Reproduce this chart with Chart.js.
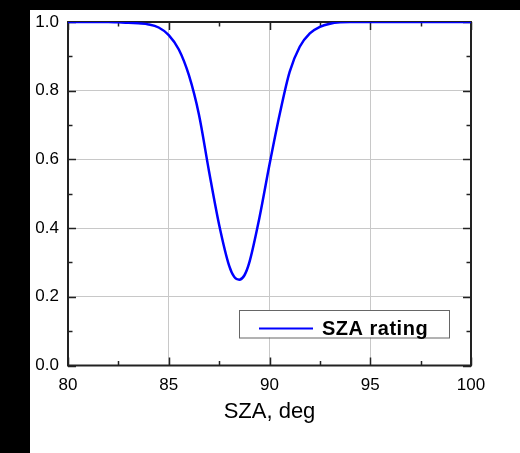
<!DOCTYPE html>
<html lang="en">
<head>
    <meta charset="UTF-8">
    <title>SZA rating</title>
    <script src="https://cdn.jsdelivr.net/npm/chart.js"></script>
    <style>
        html, body {
            margin: 0;
            padding: 0;
            background: #000;
        }
        .chart-box {
            position: absolute;
            left: 30px;
            top: 10px;
            width: 490px;
            height: 443px;
            background: #fff;
        }
    </style>
</head>
<body>
    <div class="chart-box">
        <canvas id="szaChart" width="490" height="443"></canvas>
    </div>

    <script>
        // values
        const sza = [80, 81, 82, 82.5, 83, 83.5, 84, 84.5, 85, 85.5, 86, 86.5, 87, 87.5, 88,
            88.25, 88.5, 88.75, 89, 89.5, 90, 90.5, 91, 91.5, 92, 92.5, 93, 93.5, 94, 95, 100];
        const rating = [1.0, 1.0, 1.0, 0.999, 0.998, 0.996, 0.993, 0.984, 0.962, 0.92, 0.845, 0.73, 0.565, 0.41, 0.29,
            0.258, 0.25, 0.262, 0.30, 0.43, 0.585, 0.73, 0.855, 0.928, 0.967, 0.986, 0.995, 0.999, 1.0, 1.0, 1.0];

        const seriesLabel = 'SZA rating';
        const xTitle = 'SZA, deg';
        const xTicks = [80, 85, 90, 95, 100];
        const xMinor = [82.5, 87.5, 92.5, 97.5];
        const yTicks = [0, 0.2, 0.4, 0.6, 0.8, 1.0];
        const yMinor = [0.1, 0.3, 0.5, 0.7, 0.9];

        const FONT = 'Liberation Sans, Arial, sans-serif';

        // box frame, inward ticks, and the legend inside the plot
        const framePlugin = {
            id: 'framePlugin',
            beforeDatasetsDraw(chart) {
                const { ctx, chartArea: a, scales: { x, y } } = chart;
                ctx.save();
                ctx.strokeStyle = '#222';
                ctx.lineWidth = 1.5;
                const seg = (x1, y1, x2, y2) => {
                    ctx.beginPath();
                    ctx.moveTo(x1, y1);
                    ctx.lineTo(x2, y2);
                    ctx.stroke();
                };
                const xt = (v, len) => {
                    const px = Math.round(x.getPixelForValue(v)) + 0.5;
                    seg(px, a.bottom, px, a.bottom - len);
                    seg(px, a.top, px, a.top + len);
                };
                const yt = (v, len) => {
                    const py = Math.round(y.getPixelForValue(v)) + 0.5;
                    seg(a.left, py, a.left + len, py);
                    seg(a.right, py, a.right - len, py);
                };
                xTicks.forEach(v => xt(v, 8));
                xMinor.forEach(v => xt(v, 4.5));
                yTicks.forEach(v => yt(v, 8));
                yMinor.forEach(v => yt(v, 4.5));

                ctx.lineWidth = 2;
                ctx.strokeRect(a.left, a.top, a.right - a.left, a.bottom - a.top);
                ctx.restore();
            },
            afterDatasetsDraw(chart) {
                const { ctx, chartArea: a } = chart;
                const ds = chart.data.datasets[0];
                const right = a.right - 22;
                const left = right - 210;
                const top = a.bottom - 55.5;
                ctx.save();
                ctx.fillStyle = '#fff';
                ctx.fillRect(left, top, right - left, 27.5);
                ctx.strokeStyle = '#666';
                ctx.lineWidth = 1;
                ctx.strokeRect(left + 0.5, top + 0.5, right - left, 27.5);

                ctx.strokeStyle = ds.borderColor;
                ctx.lineWidth = 2;
                ctx.beginPath();
                ctx.moveTo(left + 20, a.bottom - 37);
                ctx.lineTo(left + 74, a.bottom - 37);
                ctx.stroke();

                ctx.fillStyle = '#000';
                ctx.font = 'bold 20px ' + FONT;
                ctx.letterSpacing = '0.5px';
                ctx.textBaseline = 'alphabetic';
                ctx.fillText(ds.label, left + 83, a.bottom - 31);
                ctx.restore();
            }
        };

        const ctx = document.getElementById('szaChart').getContext('2d');
        new Chart(ctx, {
            type: 'line',
            data: {
                datasets: [{
                    label: seriesLabel,
                    data: sza.map((v, i) => ({ x: v, y: rating[i] })),
                    borderColor: '#0000ff',
                    borderWidth: 2.5,
                    pointRadius: 0,
                    fill: false,
                    cubicInterpolationMode: 'monotone'
                }]
            },
            options: {
                responsive: false,
                animation: false,
                layout: { padding: { left: 0, top: 12, right: 49, bottom: 0 } },
                plugins: {
                    legend: { display: false },
                    tooltip: { enabled: false }
                },
                scales: {
                    x: {
                        type: 'linear',
                        min: 80,
                        max: 100,
                        afterBuildTicks: s => { s.ticks = xTicks.map(v => ({ value: v })); },
                        afterFit: s => { s.height = 87.5; },
                        grid: { color: '#c8c8c8', lineWidth: 1, drawTicks: false },
                        border: { display: false },
                        ticks: {
                            padding: 10,
                            color: '#000',
                            font: { family: FONT, size: 17 },
                            maxRotation: 0,
                            callback: v => String(v)
                        },
                        title: {
                            display: true,
                            text: xTitle,
                            color: '#000',
                            font: { family: FONT, size: 22 },
                            padding: { top: 0, bottom: 28 }
                        }
                    },
                    y: {
                        min: 0,
                        max: 1,
                        afterBuildTicks: s => { s.ticks = yTicks.map(v => ({ value: v })); },
                        afterFit: s => {
                            s.width = 38;
                            s.paddingTop = 0;
                            s.paddingBottom = 0;
                        },
                        grid: { color: '#c8c8c8', lineWidth: 1, drawTicks: false },
                        border: { display: false },
                        ticks: {
                            padding: 9,
                            color: '#000',
                            font: { family: FONT, size: 17 },
                            callback: v => v.toFixed(1)
                        }
                    }
                }
            },
            plugins: [framePlugin]
        });
    </script>
</body>
</html>
